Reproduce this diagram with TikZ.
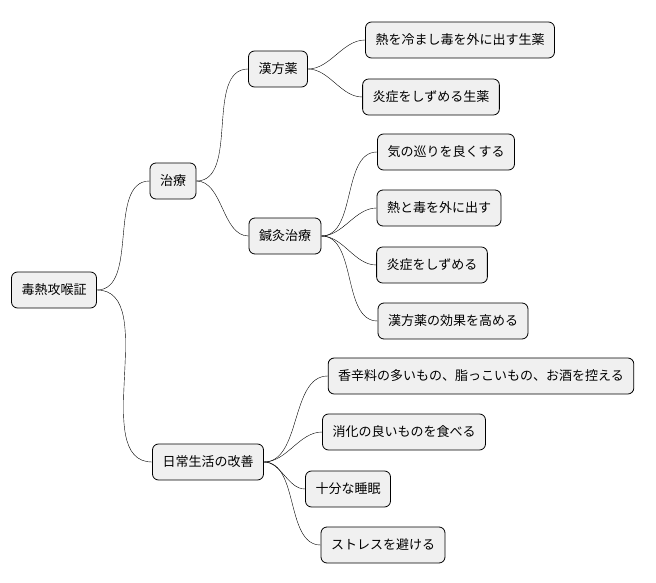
\documentclass[tikz,border=0pt]{standalone}
\usepackage{fontspec}
\setmainfont{Noto Sans CJK JP}
\usetikzlibrary{positioning}
\tikzset{
  topic/.style={draw=black, fill=black!6, rounded corners=6pt, line width=0.8pt,
    minimum height=36pt, inner xsep=10pt, font=\fontsize{13}{15}\selectfont},
  link/.style={line width=0.8pt, out=0, in=180, looseness=0.9}
}
\begin{document}
\begin{tikzpicture}[x=1pt,y=-1pt]
\useasboundingbox (0,0) rectangle (656,583);

% root and first level
\node[topic] (root) at (54,290) {毒熱攻喉証};
\node[topic] (chiryo) at (173,181) {治療};
\node[topic] (seikatsu) at (208,462) {日常生活の改善};

% treatment
\node[topic] (kampo) at (278,69) {漢方薬};
\node[topic] (shinkyu) at (285,236) {鍼灸治療};
\node[topic] (k1) at (460,40) {熱を冷まし毒を外に出す生薬};
\node[topic] (k2) at (431,97) {炎症をしずめる生薬};
\node[topic] (s1) at (446,152) {気の巡りを良くする};
\node[topic] (s2) at (439,208) {熱と毒を外に出す};
\node[topic] (s3) at (432,265) {炎症をしずめる};
\node[topic] (s4) at (453,321) {漢方薬の効果を高める};

% daily life
\node[topic] (l1) at (481,376) {香辛料の多いもの、脂っこいもの、お酒を控える};
\node[topic] (l2) at (404,432) {消化の良いものを食べる};
\node[topic] (l3) at (348,489) {十分な睡眠};
\node[topic] (l4) at (383,545) {ストレスを避ける};

\draw (root.east) to[link] (chiryo.west);
\draw (root.east) to[link] (seikatsu.west);
\draw (chiryo.east) to[link] (kampo.west);
\draw (chiryo.east) to[link] (shinkyu.west);
\foreach \c in {k1,k2} \draw (kampo.east) to[link] (\c.west);
\foreach \c in {s1,s2,s3,s4} \draw (shinkyu.east) to[link] (\c.west);
\foreach \c in {l1,l2,l3,l4} \draw (seikatsu.east) to[link] (\c.west);
\end{tikzpicture}
\end{document}
